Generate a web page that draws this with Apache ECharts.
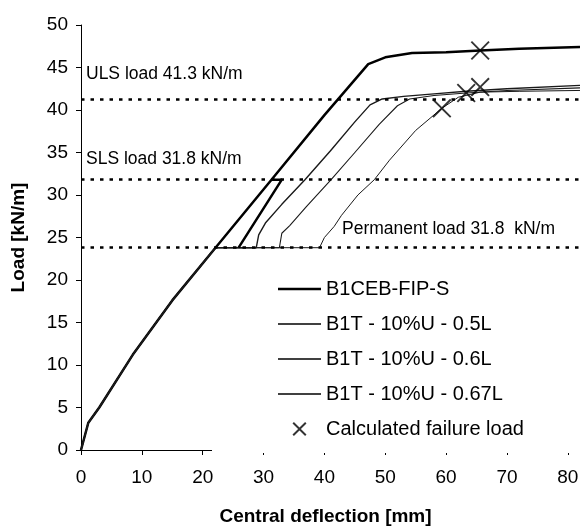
<!DOCTYPE html>
<html>
<head>
<meta charset="utf-8">
<script src="https://cdn.jsdelivr.net/npm/echarts@6/dist/echarts.min.js"></script>
<style>html,body{margin:0;padding:0;background:#fff}#c{width:580px;height:527px}</style>
</head>
<body>
<div id="c"></div>
<script>
// ---- data ----
const xTicks = [0, 10, 20, 30, 40, 50, 60, 70, 80];
const seriesNames = ['B1CEB-FIP-S', 'B1T - 10%U - 0.5L', 'B1T - 10%U - 0.6L', 'B1T - 10%U - 0.67L', 'Calculated failure load'];
const ceb = [[0,0],[1.2,3.2],[3,5],[8.5,11.2],[15,17.6],[22.1,23.8],[31.3,31.8],[40,39.4],[47.2,45.4],[50,46.2],[54.4,46.7],[60,46.8],[65.6,47.0],[72,47.2],[82,47.4]];
const cebReload = [[31.3,31.8],[33,31.8],[25.9,23.8]];
const t05 = [[0,0],[1.2,3.2],[3,5],[8.5,11.2],[15,17.6],[22.1,23.8],[28.8,23.8],[29.2,25.3],[30.3,26.7],[33,28.9],[36.8,31.8],[41,35.2],[45,38.6],[47.5,40.6],[49.5,41.3],[53,41.6],[58,41.9],[63.3,42.2],[70,42.5],[82,42.9]];
const t06 = [[0,0],[1.2,3.2],[3,5],[8.5,11.2],[15,17.6],[22.1,23.8],[32.6,23.8],[33,25.5],[34.3,26.4],[37,28.6],[41.1,31.8],[45,35],[49,38.3],[52,40.5],[54,41.3],[58,41.7],[63.3,42.0],[70,42.3],[82,42.6]];
const t067 = [[0,0],[1.2,3.2],[3,5],[8.5,11.2],[15,17.6],[22.1,23.8],[39.2,23.8],[40,25],[41.6,26.3],[42.8,27.6],[45.5,30],[48.2,31.8],[50.7,34.1],[55,37.6],[59.3,40.2],[62,41.5],[65.6,42.1],[72,42.2],[82,42.3]];
const failure = [[65.6,47.0],[65.6,42.7],[63.3,42.0],[59.3,40.2]];
const refLoads = [41.3, 31.8, 23.8];
const refLabels = ['ULS load 41.3 kN/m', 'SLS load 31.8 kN/m', 'Permanent load 31.8  kN/m'];

// ---- chart ----
const FONT = 'Liberation Sans, Arial, sans-serif';
const xSym = 'path://M0,0.7L0.7,0L5,4.3L9.3,0L10,0.7L5.7,5L10,9.3L9.3,10L5,5.7L0.7,10L0,9.3L4.3,5Z';
const xSymLegend = 'path://M0,1L1,0L5,4L9,0L10,1L6,5L10,9L9,10L5,6L1,10L0,9L4,5Z';
const thickIcon = 'path://M0,0H43V2.4H0Z';
const thinIcon = 'path://M0,0H43V1.5H0Z';
const chart = echarts.init(document.getElementById('c'), null, {renderer: 'canvas'});

const dotted = {type: [3.5, 6], width: 2.5, color: '#000'};
const markData = refLoads.map((v, i) => {
  const last = i === 2;
  return [
    {coord: [0, v], label: {
      show: true, formatter: refLabels[i],
      position: last ? 'insideEndTop' : 'insideStartTop',
      distance: last ? [25, 10] : [5, i === 0 ? 16 : 12],
      color: '#000', fontSize: 17.5, fontFamily: FONT
    }},
    {coord: [82, v]}
  ];
});

function lineSeries(name, data, width, color) {
  return {name, type: 'line', data, symbol: 'none', showSymbol: false, smooth: false,
    lineStyle: {width, color}, itemStyle: {color}, z: 3, animation: false};
}

const option = {
  backgroundColor: '#fff',
  animation: false,
  grid: {left: 81, top: 25, width: 499, height: 425, outerBoundsMode: 'none', containLabel: false},
  xAxis: {
    type: 'value', min: 0, max: 82,
    name: 'Central deflection [mm]', nameLocation: 'middle', nameGap: 57,
    nameTextStyle: {fontSize: 19, fontWeight: 'bold', color: '#000', fontFamily: FONT, padding: [0, 10, 0, 0]},
    axisLine: {show: true, lineStyle: {color: '#000', width: 1}},
    axisTick: {show: true, length: 5, customValues: xTicks, lineStyle: {color: '#000'}},
    axisLabel: {customValues: xTicks, fontSize: 19, color: '#000', fontFamily: FONT, margin: 18},
    splitLine: {show: false}
  },
  yAxis: {
    type: 'value', min: 0, max: 50, interval: 5,
    name: 'Load [kN/m]', nameLocation: 'middle', nameGap: 53, nameRotate: 90,
    nameTextStyle: {fontSize: 19, fontWeight: 'bold', color: '#000', fontFamily: FONT},
    axisLine: {show: true, lineStyle: {color: '#000', width: 1}},
    axisTick: {show: true, length: 5, lineStyle: {color: '#000'}},
    axisLabel: {fontSize: 19, color: '#000', fontFamily: FONT, margin: 13},
    splitLine: {show: false}
  },
  legend: {
    orient: 'vertical', left: 212, top: 270,
    padding: [9, 60, 14, 66], backgroundColor: '#fff',
    itemWidth: 43, itemHeight: 14, itemGap: 15,
    textStyle: {fontSize: 20, color: '#000', fontFamily: FONT},
    data: [
      {name: seriesNames[0], icon: thickIcon, itemStyle: {color: '#000'}},
      {name: seriesNames[1], icon: thinIcon, itemStyle: {color: '#000'}},
      {name: seriesNames[2], icon: thinIcon, itemStyle: {color: '#000'}},
      {name: seriesNames[3], icon: thinIcon, itemStyle: {color: '#000'}},
      {name: seriesNames[4], icon: xSymLegend, itemStyle: {color: '#000'}}
    ]
  },
  series: [
    Object.assign(lineSeries(seriesNames[0], ceb, 2.5, '#000'), {
      markLine: {silent: true, symbol: 'none', animation: false, lineStyle: dotted, data: markData}
    }),
    lineSeries(seriesNames[1], t05, 1.4, '#1a1a1a'),
    lineSeries(seriesNames[2], t06, 1.1, '#1a1a1a'),
    lineSeries(seriesNames[3], t067, 1.0, '#1a1a1a'),
    lineSeries(seriesNames[0], cebReload, 2.5, '#000'),
    {name: seriesNames[4], type: 'scatter', data: failure, symbol: xSym, symbolSize: 19,
     itemStyle: {color: '#000'}, z: 5, animation: false}
  ]
};
chart.setOption(option);
</script>
</body>
</html>
